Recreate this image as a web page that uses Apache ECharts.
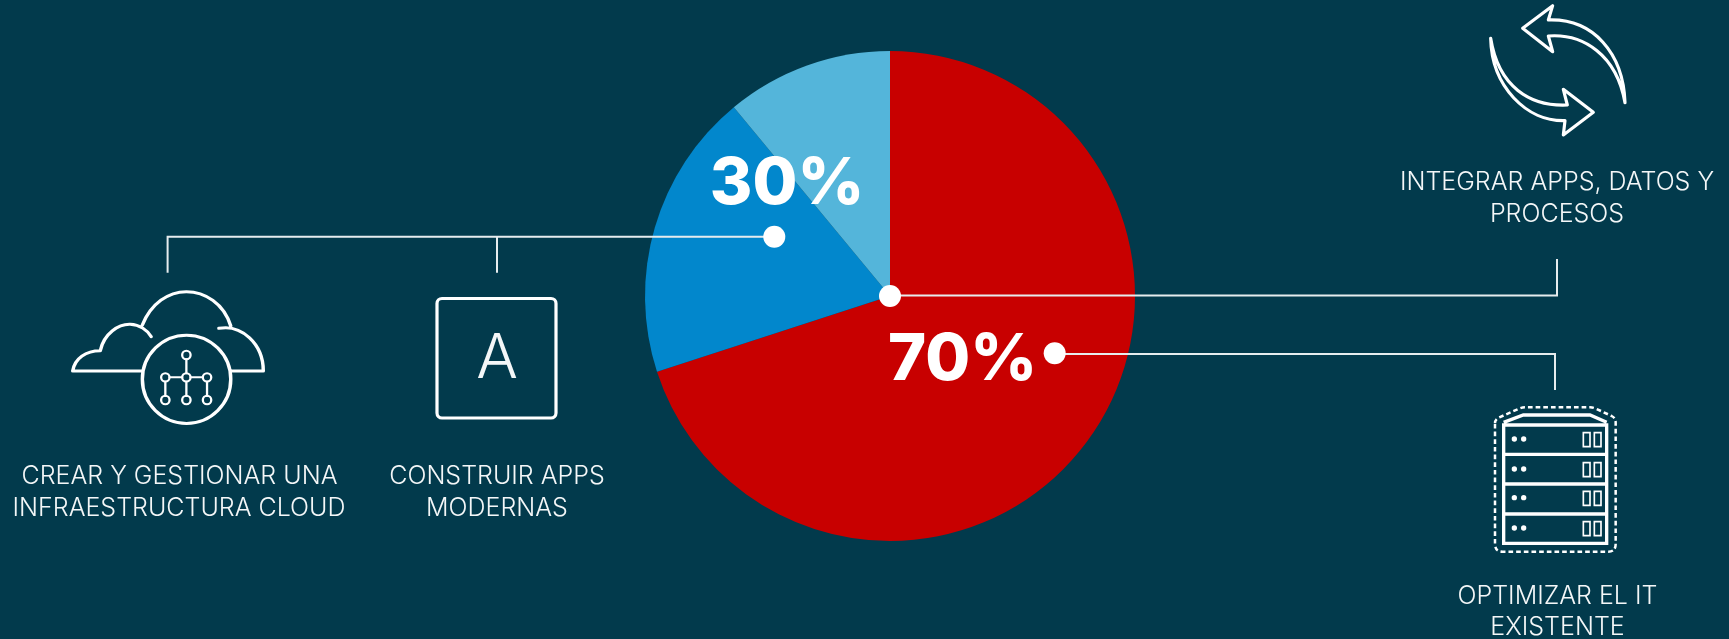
<!DOCTYPE html>
<html><head><meta charset="utf-8">
<script src="https://cdn.jsdelivr.net/npm/echarts@6/dist/echarts.min.js"></script>
<style>html,body{margin:0;padding:0;background:#023a4c;overflow:hidden}#c{width:1729px;height:639px}</style>
</head><body><div id="c"></div>
<script>
const sliceNames = ['Optimizar e integrar','Construir apps','Infraestructura cloud'];
const sliceValues = [70, 19, 11];
const sliceColors = ['#c80000', '#0287cc', '#54b5da'];
const bigLabels = ['30%', '70%'];
const captions = [
  ['CREAR Y GESTIONAR UNA', 179.5, 476.5], ['INFRAESTRUCTURA CLOUD', 179, 508],
  ['CONSTRUIR APPS', 497, 476.5], ['MODERNAS', 497, 508],
  ['INTEGRAR APPS, DATOS Y', 1557, 182.5], ['PROCESOS', 1557, 214.5],
  ['OPTIMIZAR EL IT', 1557.5, 596.5], ['EXISTENTE', 1557.5, 627]
];
const Z = 10;
const FONT = 'Inter';
let pathCount = 0;
function stroke(lw, extra){ return Object.assign({stroke:'#fff', fill:'none', lineWidth:lw, lineCap:'round', lineJoin:'round'}, extra||{}); }
function pathEl(d, style){
  const name = 'svgp' + (pathCount++);
  echarts.graphic.registerShape(name, echarts.graphic.extendPath(d, {}));
  return {type:name, z:Z, style:style};
}
function line(d, lw){ return pathEl(d, stroke(lw||2,{stroke:'#e6ecee',lineCap:'butt',lineJoin:'miter'})); }
function dot(x,y){ return {type:'circle', z:Z+1, shape:{cx:x,cy:y,r:11}, style:{fill:'#fff'}}; }
function txt(t,x,y,size,weight,color){ return {type:'text', z:Z+2, x:x, y:y, style:{text:t, fill:color||'#f4f7f8', font:(weight||400)+' '+size+'px '+FONT+', sans-serif', align:'center', verticalAlign:'middle'}}; }

const cloudIcon = {type:'group', x:0, y:220, scaleX:0.3827, scaleY:1/3, children:[
  pathEl('M372,453 L190,453 C195,415 225,392 262,392 C272,340 310,312 340,313 C365,314 385,330 395,350 '+
    'M372,315 C395,250 440,215 487,215 C535,215 585,250 603,318 '+
    'M572,325 C630,312 688,370 688,453 L605,453 '+
    'M372,478 A115,132 0 1 1 603,478 A115,132 0 1 1 372,478 Z', stroke(9)),
  pathEl('M487,418 L487,460 M487,485 L487,528 M443,472 L476,472 M498,472 L530,472 M432,485 L432,528 M541,485 L541,528', stroke(6)),
  ...[[487,405],[432,472],[487,472],[541,472],[432,540],[487,540],[541,540]].map(p=>({
    type:'ellipse', z:Z, shape:{cx:p[0],cy:p[1],rx:11,ry:12.6}, style:stroke(6)}))
]};
const appIcon = {type:'rect', z:Z, shape:{x:437,y:298.5,width:119,height:119.5,r:5}, style:stroke(3.2)};
const arrowsIcon = {type:'group', x:1380, y:0, scaleX:1/3, scaleY:1/3, children:[
  pathEl('M735,308 C730,160 640,55 505,60 L518,17 L428,85 L518,155 L505,108 C610,100 710,165 735,308 '+
    'M332,115 C335,260 440,365 555,362 L550,405 L640,337 L550,268 L562,315 C450,320 355,260 332,115', stroke(9.5))
]};
const dy=[0,90,176,267];
const serverIcon = {type:'group', x:1380, y:340, scaleX:1/3, scaleY:1/3, children:[
  pathEl('M345,250 Q345,238 358,232 L415,207 Q425,202 435,202 L630,202 Q640,202 650,207 L695,228 Q707,234 707,248 L707,612 Q707,635 685,635 L368,635 Q345,635 345,612 Z',
    stroke(7.5,{lineDash:[14,9],lineCap:'butt'})),
  pathEl('M371,255 L680,255 L680,610 L371,610 Z M371,343 L680,343 M371,432 L680,432 M371,522 L680,522 M371,247 L430,225 L630,225 L680,247',
    stroke(10,{lineCap:'butt',lineJoin:'miter'})),
  ...dy.flatMap(d=>[
    {type:'circle',z:Z,shape:{cx:403,cy:297+d,r:8},style:{fill:'#fff'}},
    {type:'circle',z:Z,shape:{cx:431,cy:297+d,r:8},style:{fill:'#fff'}},
    {type:'rect',z:Z,shape:{x:610,y:278+d,width:20,height:42},style:stroke(5,{lineJoin:'miter'})},
    {type:'rect',z:Z,shape:{x:643,y:278+d,width:20,height:42},style:stroke(5,{lineJoin:'miter'})}
  ])
]};

const chart = echarts.init(document.getElementById('c'), null, {renderer:'canvas'});
chart.setOption({
  animation:false,
  backgroundColor:'#023a4c',
  series:[{
    type:'pie', center:[890,296], radius:[0,245], startAngle:90, clockwise:true, silent:true,
    label:{show:false}, labelLine:{show:false},
    data: sliceValues.map((v,i)=>({name:sliceNames[i], value:v, itemStyle:{color:sliceColors[i]}}))
  }],
  graphic:{elements:[
    line('M167.6,272.7 L167.6,236.7 L774,236.7 M497,236.7 L497,272.7'),
    line('M890,295.4 L1557,295.4 L1557,259'),
    line('M1055,354 L1555,354 L1555,390'),
    dot(774.3,236.7), dot(890,296), dot(1054.7,353.3),
    cloudIcon, appIcon, arrowsIcon, serverIcon,
    txt('A',497,359,62,300,'#f4f7f8'),
    txt(bigLabels[0],787,184.5,65,800,'#fff'),
    txt(bigLabels[1],962.5,360,65,800,'#fff'),
    ...captions.map(c=>txt(c[0],c[1],c[2],25,300))
  ]}
});
</script></body></html>
